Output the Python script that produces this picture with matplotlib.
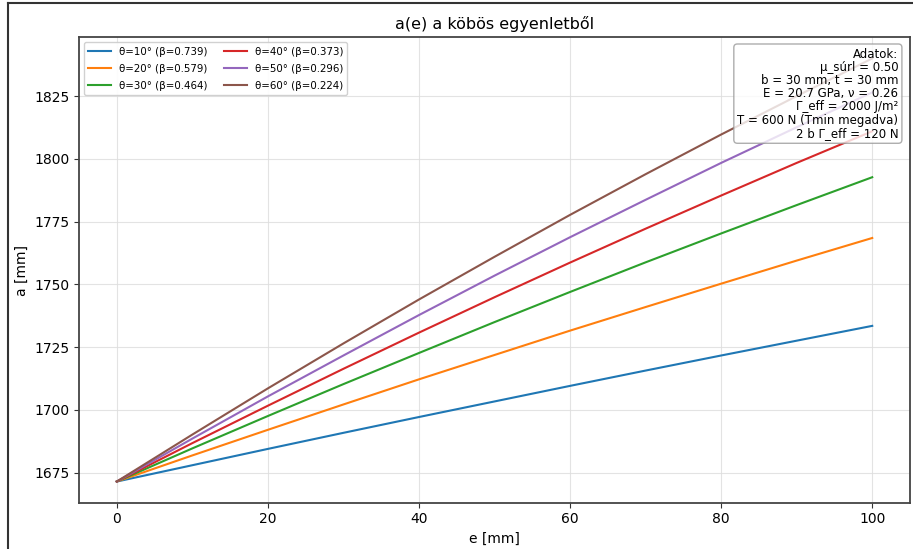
import matplotlib
matplotlib.use("Agg")
import matplotlib.pyplot as plt
from matplotlib.lines import Line2D

# e [mm] sample positions and a(e) [mm] for each angle
e_mm = [0, 10, 20, 30, 40, 50, 60, 70, 80, 90, 100]

a_theta10 = [1671.5, 1678.0, 1684.5, 1690.9, 1697.2, 1703.4, 1709.6, 1715.7, 1721.7, 1727.6, 1733.5]
a_theta20 = [1671.5, 1681.9, 1692.1, 1702.2, 1712.2, 1721.9, 1731.6, 1741.0, 1750.3, 1759.5, 1768.5]
a_theta30 = [1671.5, 1684.7, 1697.6, 1710.3, 1722.7, 1735.0, 1747.0, 1758.8, 1770.3, 1781.6, 1792.7]
a_theta40 = [1671.5, 1686.8, 1701.7, 1716.4, 1730.8, 1744.9, 1758.7, 1772.2, 1785.4, 1798.4, 1811.0]
a_theta50 = [1671.5, 1688.6, 1705.4, 1721.7, 1737.8, 1753.5, 1768.8, 1783.7, 1798.4, 1812.6, 1826.5]
a_theta60 = [1671.5, 1690.2, 1708.6, 1726.5, 1744.0, 1761.0, 1777.7, 1793.9, 1809.7, 1825.0, 1840.0]

thetas = [10, 20, 30, 40, 50, 60]
betas = [0.739, 0.579, 0.464, 0.373, 0.296, 0.224]
series = [a_theta10, a_theta20, a_theta30, a_theta40, a_theta50, a_theta60]

info_lines = [
    "Adatok:",
    "μ_súrl = 0.50",
    "b = 30 mm, t = 30 mm",
    "E = 20.7 GPa, ν = 0.26",
    "Γ_eff = 2000 J/m²",
    "T = 600 N (Tmin megadva)",
    "2 b Γ_eff = 120 N",
]

fig = plt.figure(figsize=(9.13, 5.49), dpi=100)
ax = fig.add_axes([79 / 913, 1 - 502.7 / 549, (910 - 79) / 913, (502.7 - 37.3) / 549])

for th, be, a in zip(thetas, betas, series):
    ax.plot(e_mm, a, lw=1.5, label=f"θ={th}° (β={be:.3f})")

ax.set_title("a(e) a köbös egyenletből", fontsize=11.5)
ax.set_xlabel("e [mm]", fontsize=10)
ax.set_ylabel("a [mm]", fontsize=10)
ax.grid(True, color="#dddddd", lw=0.8, alpha=0.8)
ax.set_xticks([0, 20, 40, 60, 80, 100])
ax.set_yticks([1675, 1700, 1725, 1750, 1775, 1800, 1825])
ax.tick_params(labelsize=10, color="#333333")
for sp in ax.spines.values():
    sp.set_color("#444444")
    sp.set_linewidth(1.3)

ax.legend(loc="upper left", ncol=2, fontsize=7.4, labelspacing=0.7,
          columnspacing=1.6, handlelength=2.2, framealpha=0.9)

ax.text(0.986, 0.978, "\n".join(info_lines), transform=ax.transAxes,
        ha="right", va="top", fontsize=8.5, linespacing=1.02,
        bbox=dict(boxstyle="round", facecolor="white", alpha=0.8, edgecolor="#999999"))

# outer frame lines along the left and top of the figure
fig.add_artist(Line2D([7.5 / 913, 7.5 / 913], [0, 1 - 2.5 / 549],
                      transform=fig.transFigure, color="#333333", lw=1.5))
fig.add_artist(Line2D([7.5 / 913, 1], [1 - 2.5 / 549, 1 - 2.5 / 549],
                      transform=fig.transFigure, color="#333333", lw=1.5))

fig.savefig("out.png", dpi=100)
